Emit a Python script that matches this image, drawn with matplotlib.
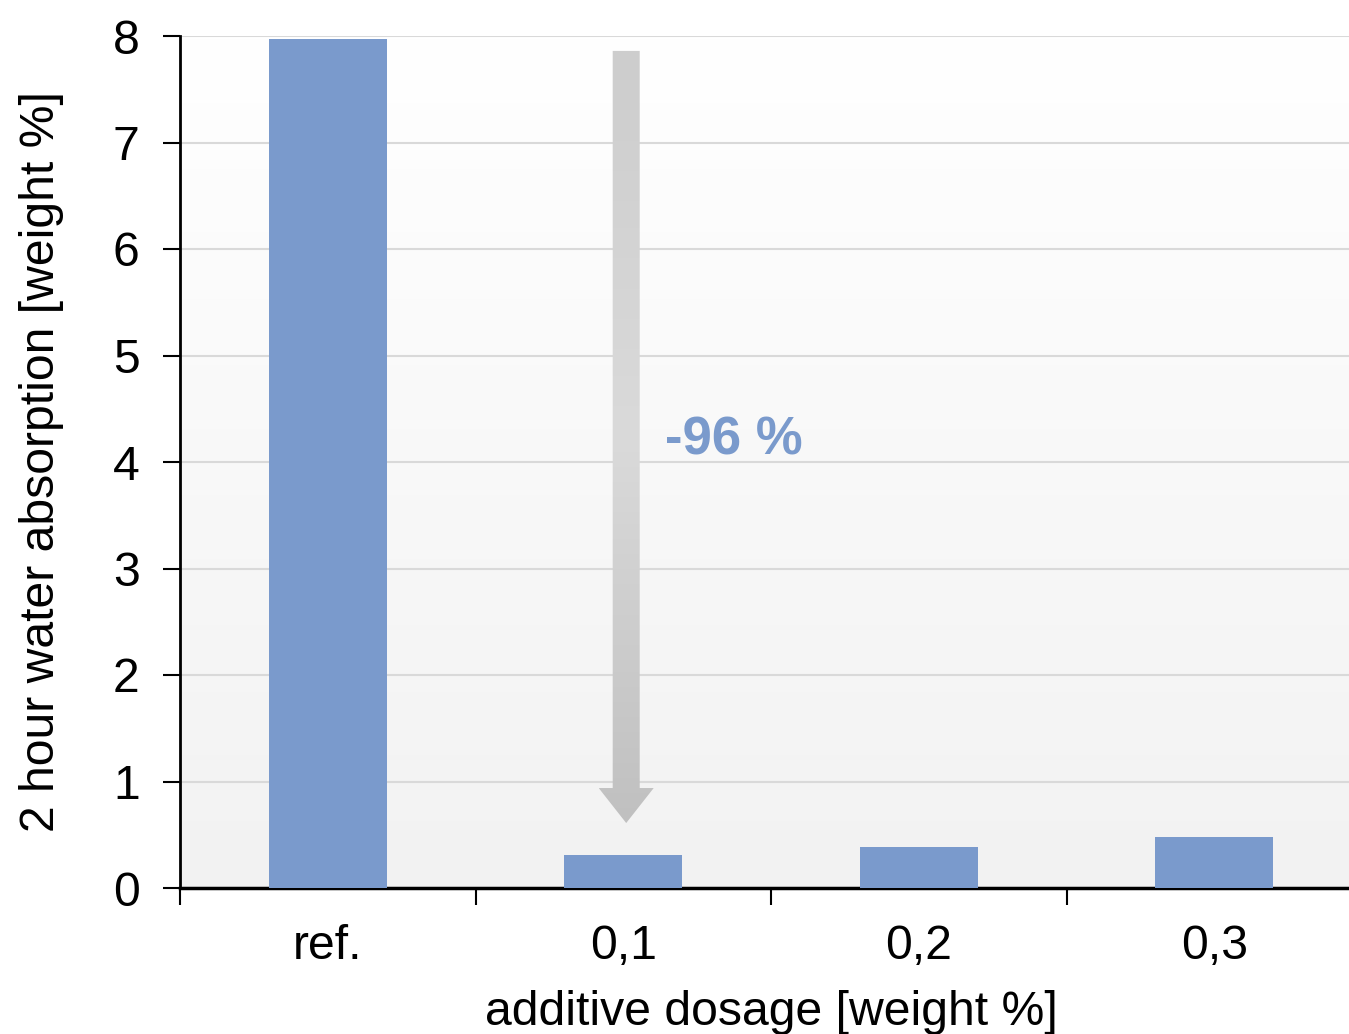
import matplotlib.pyplot as plt
import numpy as np
from matplotlib.patches import Polygon
from matplotlib.colors import LinearSegmentedColormap

plt.rcParams['font.family'] = ['Liberation Sans', 'DejaVu Sans']

# water absorption after 2 hours, weight %
categorias = ['ref.', '0,1', '0,2', '0,3']
absorcao = [7.97, 0.31, 0.385, 0.48]
reducao = '-96 %'

# arrow showing the drop from ref. to 0,1
seta_topo = 7.86
seta_ponta = 0.61

azul = '#7A9ACC'

fig = plt.figure(figsize=(13.49, 10.34), dpi=100)
ax = fig.add_axes([180 / 1349, 1 - 888 / 1034, 1182 / 1349, 852 / 1034])

x = np.arange(len(categorias))

# background: white on top fading to light gray at the bottom
fundo = np.linspace(1.0, 0.0, 256).reshape(-1, 1)
cmap_fundo = LinearSegmentedColormap.from_list('fundo', ['#F2F2F2', '#FFFFFF'])
ax.imshow(fundo, cmap=cmap_fundo, extent=[-0.5, 3.5, 0, 8], aspect='auto',
          origin='upper', zorder=0)

ax.set_yticks(range(0, 9))
ax.grid(axis='y', color='#D9D9D9', linewidth=1.5, zorder=1)
ax.set_axisbelow(True)

ax.bar(x, absorcao, width=0.4, color=azul, zorder=3)

# gray arrow with vertical gradient
larg_haste = 27 / 295.5 / 2
larg_cabeca = 55 / 295.5 / 2
base_cabeca = seta_ponta + 35 / 106.5
cx = x[1] + 0.01
pts = [(cx - larg_haste, seta_topo), (cx + larg_haste, seta_topo),
       (cx + larg_haste, base_cabeca), (cx + larg_cabeca, base_cabeca),
       (cx, seta_ponta), (cx - larg_cabeca, base_cabeca),
       (cx - larg_haste, base_cabeca)]
seta = Polygon(pts, closed=True, facecolor='none', edgecolor='none')
ax.add_patch(seta)
cmap_seta = LinearSegmentedColormap.from_list('seta', ['#C0C0C0', '#DADADA', '#CDCDCD'])
grad = np.linspace(0, 1, 256).reshape(-1, 1)
img = ax.imshow(grad, cmap=cmap_seta, origin='lower', aspect='auto',
                extent=[cx - larg_cabeca, cx + larg_cabeca, seta_ponta, seta_topo],
                zorder=4)
img.set_clip_path(seta)
ax.set_xlim(-0.5, 3.5)
ax.set_ylim(0, 8)

ax.text(x[1] + 0.14, 4.2, reducao, color=azul, fontsize=38, fontweight='bold',
        ha='left', va='center', zorder=5)

# ticks: labels centered, tick marks on the category borders
ax.set_xticks(x)
ax.set_xticklabels(categorias)
ax.set_xticks(np.arange(-0.5, 4, 1), minor=True)
ax.tick_params(axis='x', which='major', length=0, pad=26, labelsize=34.7)
ax.tick_params(axis='x', which='minor', length=12, width=1.5, direction='out')
ax.tick_params(axis='y', length=12, width=1.5, direction='out', pad=17, labelsize=34.7)

for s in ['top', 'right']:
    ax.spines[s].set_visible(False)
ax.spines['left'].set_linewidth(2)
ax.spines['bottom'].set_linewidth(2.5)

ax.set_ylabel('2 hour water absorption [weight %]', fontsize=34.7, labelpad=35)
ax.set_xlabel('additive dosage [weight %]', fontsize=34.7, labelpad=15)

plt.savefig('out.png', dpi=100)
